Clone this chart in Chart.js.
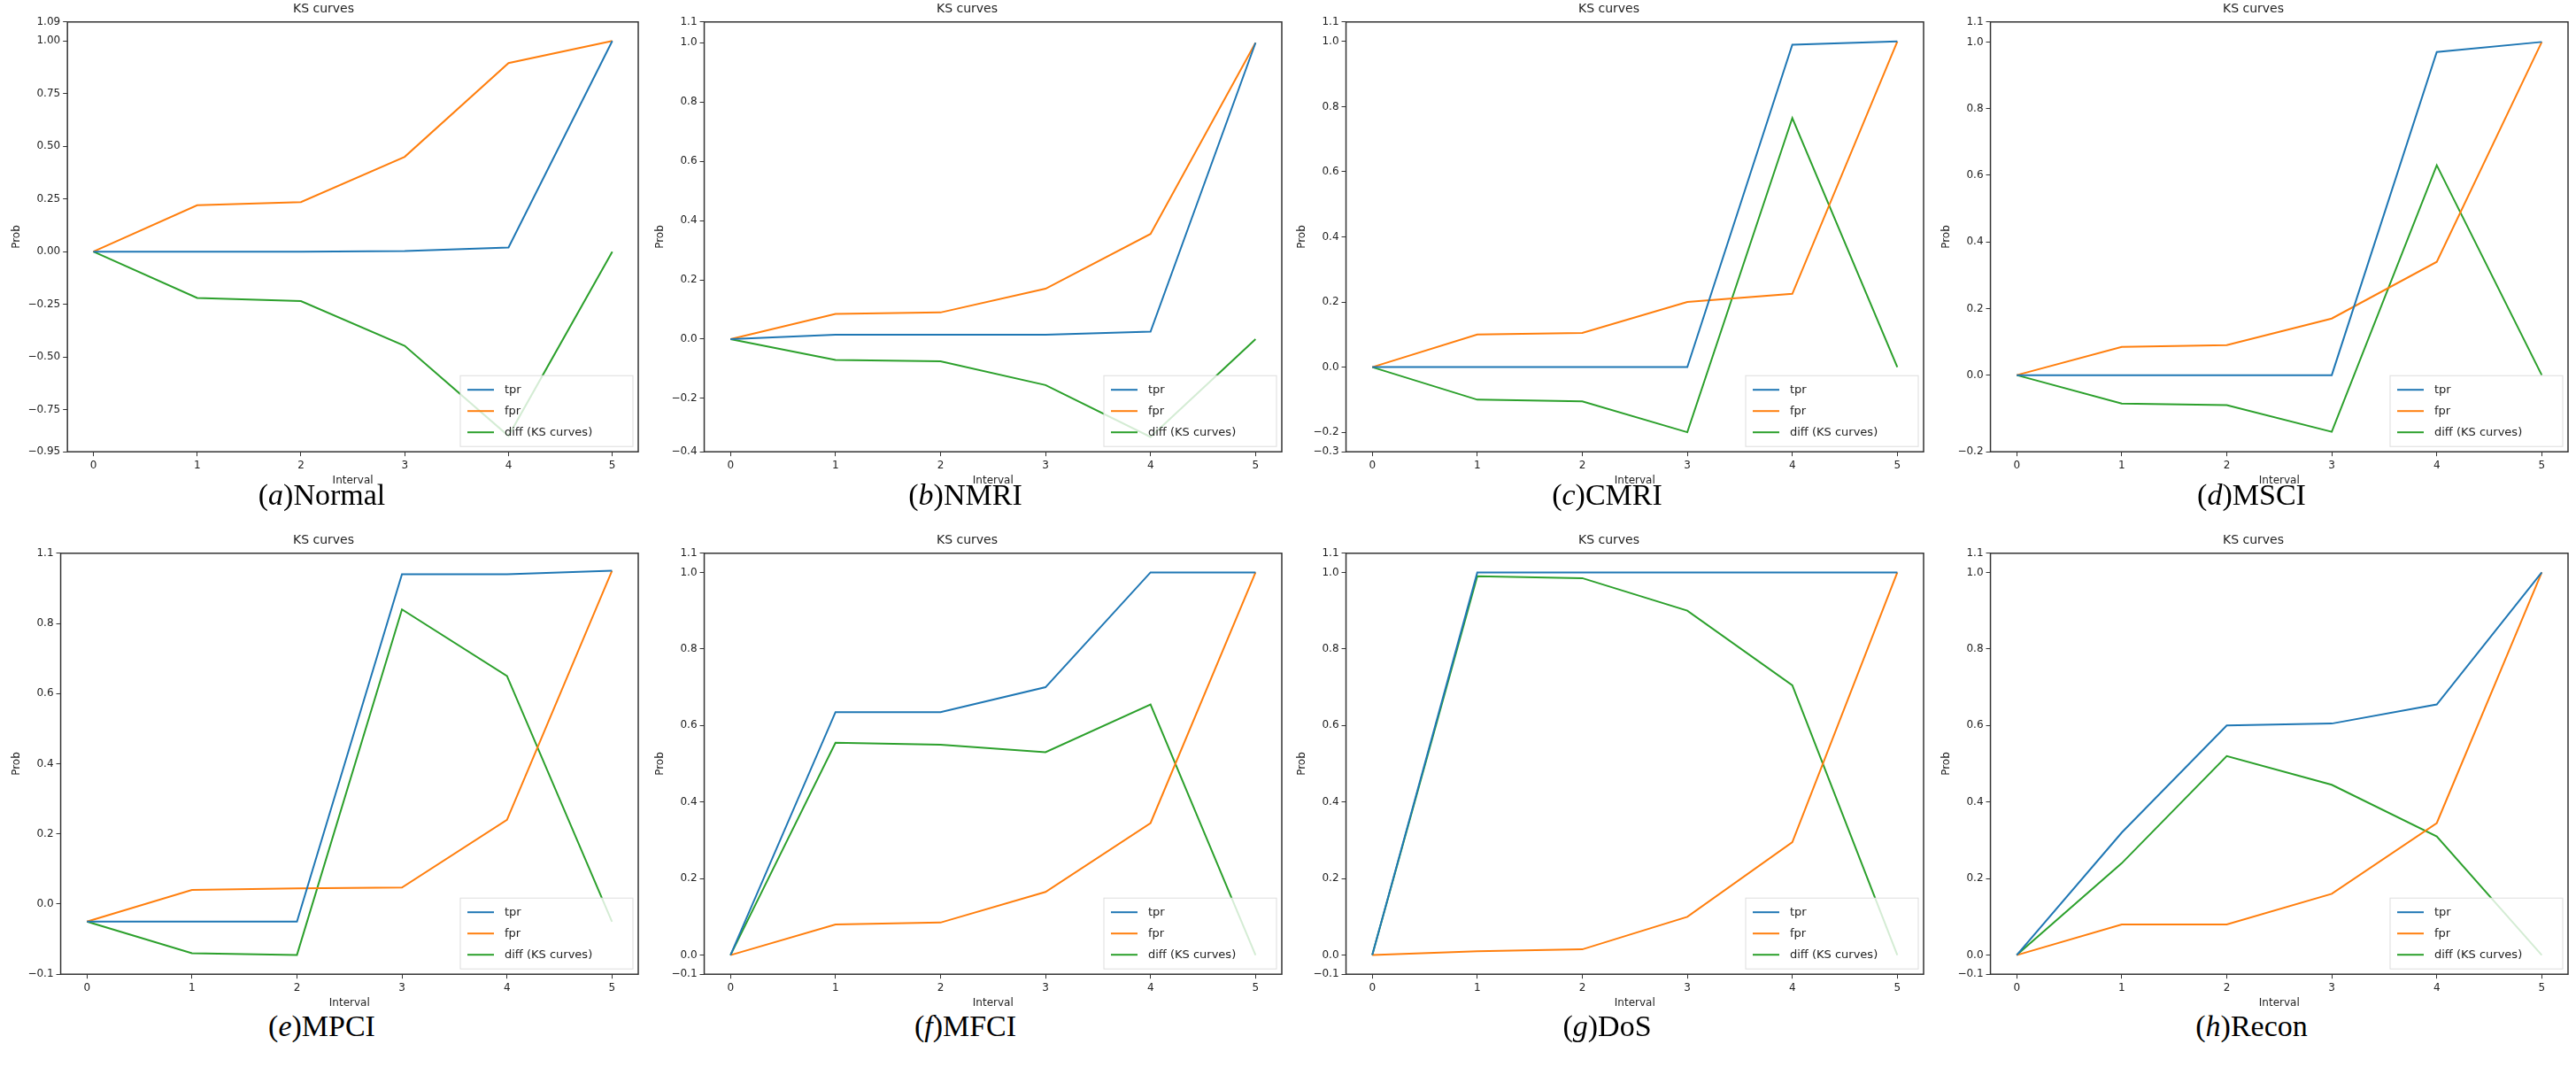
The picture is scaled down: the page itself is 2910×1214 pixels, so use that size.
<!DOCTYPE html>
<html>
<head>
<meta charset="utf-8">
<script src="https://cdn.jsdelivr.net/npm/chart.js@4/dist/chart.umd.min.js"></script>
<style>
  body { margin: 0; background: #fff; width: 2910px; height: 1214px; position: relative; overflow: hidden; }
  .panel { position: absolute; width: 727px; height: 560px; }
  .cap { position: absolute; width: 727px; text-align: center; font-family: "Liberation Serif", serif; font-size: 34px; color: #000; }
</style>
</head>
<body>
<script>
'use strict';

const intervals = [0, 1, 2, 3, 4, 5];
const seriesNames = ['tpr', 'fpr', 'diff (KS curves)'];
const seriesColors = ['#1f77b4', '#ff7f0e', '#2ca02c'];

const captionsItalic = ['a', 'b', 'c', 'd', 'e', 'f', 'g', 'h'];
const captionsName = ['Normal', 'NMRI', 'CMRI', 'MSCI', 'MPCI', 'MFCI', 'DoS', 'Recon'];

const tprNormal = [0, 0, 0, 0.003, 0.02, 1];
const fprNormal = [0, 0.22, 0.235, 0.45, 0.895, 1];
const diffNormal = [0, -0.22, -0.235, -0.447, -0.875, 0];

const tprNMRI = [0, 0.015, 0.015, 0.015, 0.025, 1];
const fprNMRI = [0, 0.085, 0.09, 0.17, 0.355, 1];
const diffNMRI = [0, -0.07, -0.075, -0.155, -0.33, 0];

const tprCMRI = [0, 0, 0, 0, 0.99, 1];
const fprCMRI = [0, 0.1, 0.105, 0.2, 0.225, 1];
const diffCMRI = [0, -0.1, -0.105, -0.2, 0.765, 0];

const tprMSCI = [0, 0, 0, 0, 0.97, 1];
const fprMSCI = [0, 0.085, 0.09, 0.17, 0.34, 1];
const diffMSCI = [0, -0.085, -0.09, -0.17, 0.63, 0];

const tprMPCI = [0, 0, 0, 0.99, 0.99, 1];
const fprMPCI = [0, 0.09, 0.095, 0.097, 0.29, 1];
const diffMPCI = [0, -0.09, -0.095, 0.89, 0.7, 0];

const tprMFCI = [0, 0.635, 0.635, 0.7, 1, 1];
const fprMFCI = [0, 0.08, 0.085, 0.165, 0.345, 1];
const diffMFCI = [0, 0.555, 0.55, 0.53, 0.655, 0];

const tprDoS = [0, 1, 1, 1, 1, 1];
const fprDoS = [0, 0.01, 0.015, 0.1, 0.295, 1];
const diffDoS = [0, 0.99, 0.985, 0.9, 0.705, 0];

const tprRecon = [0, 0.32, 0.6, 0.605, 0.655, 1];
const fprRecon = [0, 0.08, 0.08, 0.16, 0.345, 1];
const diffRecon = [0, 0.24, 0.52, 0.445, 0.31, 0];

// y ranges per panel (matplotlib auto margins) and tick step
const yMins = [-0.95, -0.38, -0.26, -0.23, -0.15, -0.05, -0.05, -0.05];
const yMaxs = [1.09, 1.07, 1.06, 1.06, 1.05, 1.05, 1.05, 1.05];
const ySteps = [0.25, 0.2, 0.2, 0.2, 0.2, 0.2, 0.2, 0.2];

const panels = [
    [tprNormal, fprNormal, diffNormal],
    [tprNMRI, fprNMRI, diffNMRI],
    [tprCMRI, fprCMRI, diffCMRI],
    [tprMSCI, fprMSCI, diffMSCI],
    [tprMPCI, fprMPCI, diffMPCI],
    [tprMFCI, fprMFCI, diffMFCI],
    [tprDoS, fprDoS, diffDoS],
    [tprRecon, fprRecon, diffRecon],
];

// frame around plot area + legend inside lower right
const framePlugin = {
    id: 'frame',
    afterDraw(chart) {
        const {ctx, chartArea: a} = chart;
        ctx.save();
        ctx.strokeStyle = '#333';
        ctx.lineWidth = 1.5;
        ctx.strokeRect(a.left, a.top, a.right - a.left, a.bottom - a.top);
        const w = 195, h = 80;
        const x = a.right - w - 6, y = a.bottom - h - 6;
        ctx.fillStyle = 'rgba(255,255,255,0.8)';
        ctx.strokeStyle = '#ddd';
        ctx.lineWidth = 1;
        ctx.fillRect(x, y, w, h);
        ctx.strokeRect(x, y, w, h);
        ctx.font = '13px "DejaVu Sans"';
        ctx.textBaseline = 'middle';
        seriesNames.forEach((n, i) => {
            const ly = y + 16 + i * 24;
            ctx.strokeStyle = seriesColors[i];
            ctx.lineWidth = 2;
            ctx.beginPath();
            ctx.moveTo(x + 8, ly);
            ctx.lineTo(x + 38, ly);
            ctx.stroke();
            ctx.fillStyle = '#222';
            ctx.fillText(n, x + 50, ly);
        });
        ctx.restore();
    }
};

const lefts = [0, 727, 1452, 2180];
panels.forEach((series, i) => {
    const row = Math.floor(i / 4), col = i % 4;
    const top = row === 0 ? 0 : 600;
    const div = document.createElement('div');
    div.className = 'panel';
    div.style.left = lefts[col] + 'px';
    div.style.top = top + 'px';
    const cv = document.createElement('canvas');
    cv.width = 727;
    cv.height = row === 0 ? 550 : 540;
    div.appendChild(cv);
    document.body.appendChild(div);

    const cap = document.createElement('div');
    cap.className = 'cap';
    cap.style.left = lefts[col] + 'px';
    cap.style.top = (row === 0 ? 540 : 1140) + 'px';
    cap.innerHTML = '(<i>' + captionsItalic[i] + '</i>)' + captionsName[i];
    document.body.appendChild(cap);

    new Chart(cv, {
        type: 'line',
        data: {
            datasets: series.map((vals, k) => ({
                label: seriesNames[k],
                data: intervals.map((x, j) => ({x, y: vals[j]})),
                borderColor: seriesColors[k],
                borderWidth: 2,
                pointRadius: 0,
                tension: 0,
            }))
        },
        options: {
            responsive: false,
            animation: false,
            devicePixelRatio: 1,
            layout: {padding: {left: 10, right: 6, top: 0, bottom: 0}},
            plugins: {
                legend: {display: false},
                tooltip: {enabled: false},
                title: {display: true, text: 'KS curves', color: '#222',
                        font: {family: 'DejaVu Sans', size: 14, weight: 'normal'}, padding: {top: 2, bottom: 6}},
            },
            scales: {
                x: {
                    type: 'linear', min: -0.25, max: 5.25,
                    grid: {display: true, drawOnChartArea: false, tickLength: 5, color: '#333'},
                    border: {display: false},
                    afterBuildTicks: ax => { ax.ticks = intervals.map(v => ({value: v})); },
                    ticks: {color: '#222', font: {family: 'DejaVu Sans', size: 12}},
                    title: {display: true, text: 'Interval', color: '#222', padding: 0,
                            font: {family: 'DejaVu Sans', size: 12}},
                },
                y: {
                    min: yMins[i], max: yMaxs[i],
                    grid: {display: true, drawOnChartArea: false, tickLength: 5, color: '#333'},
                    border: {display: false},
                    ticks: {stepSize: ySteps[i], color: '#222', font: {family: 'DejaVu Sans', size: 12},
                            callback: v => {
                                const s = ySteps[i] === 0.25 ? v.toFixed(2) : v.toFixed(1);
                                return s.replace('-', '\u2212');
                            }},
                    title: {display: true, text: 'Prob', color: '#222', padding: 2,
                            font: {family: 'DejaVu Sans', size: 12}},
                },
            },
        },
        plugins: [framePlugin],
    });
});
</script>
</body>
</html>
